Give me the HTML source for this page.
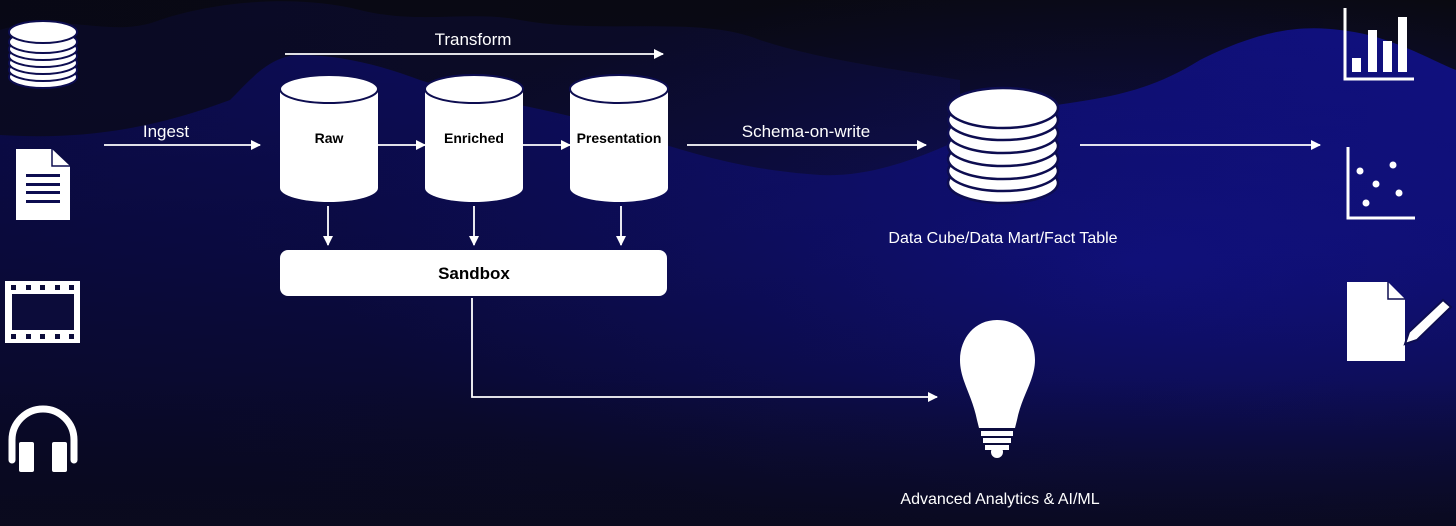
<!DOCTYPE html>
<html><head><meta charset="utf-8"><style>
html,body{margin:0;padding:0;background:#0b0b14}
svg{display:block}
text{font-family:"Liberation Sans",Arial,sans-serif;fill:#fff}
</style></head><body>
<svg width="1456" height="526" viewBox="0 0 1456 526" xmlns="http://www.w3.org/2000/svg">
<defs>
<linearGradient id="bg" x1="0" y1="0" x2="0" y2="1">
<stop offset="0" stop-color="#0a0a10"/><stop offset="1" stop-color="#0a0a1a"/></linearGradient>
<linearGradient id="blue" x1="0" y1="0" x2="0" y2="1">
<stop offset="0" stop-color="#10107e"/><stop offset="0.45" stop-color="#0d0d5c"/><stop offset="1" stop-color="#0a0a22"/></linearGradient>
<linearGradient id="dk" x1="0" y1="0" x2="0" y2="1">
<stop offset="0" stop-color="#0d0d2e"/><stop offset="1" stop-color="#0b0b22"/></linearGradient>
<linearGradient id="shade" x1="0" y1="0" x2="1" y2="0">
<stop offset="0" stop-color="#07071a" stop-opacity="0.5"/><stop offset="0.45" stop-color="#07071a" stop-opacity="0.3"/><stop offset="1" stop-color="#07071a" stop-opacity="0"/></linearGradient>
<linearGradient id="bot" x1="0" y1="0" x2="0" y2="1">
<stop offset="0" stop-color="#0a0a1c" stop-opacity="0"/><stop offset="1" stop-color="#0a0a1c" stop-opacity="0.5"/></linearGradient>
<radialGradient id="glow" cx="0.78" cy="0.5" r="0.55">
<stop offset="0" stop-color="#1414a8" stop-opacity="0.55"/><stop offset="1" stop-color="#1414a8" stop-opacity="0"/></radialGradient>
<marker id="ah" markerWidth="10" markerHeight="10" refX="9" refY="5" orient="auto" markerUnits="userSpaceOnUse">
<path d="M0,0 L10,5 L0,10 Z" fill="#fff"/></marker>
</defs>
<rect width="1456" height="526" fill="url(#bg)"/>
<path d="M0,30 C60,10 110,40 160,20 C220,0 300,-5 360,10 C420,25 470,10 520,20 C600,35 700,15 760,40 C820,60 900,70 960,80 L960,526 L0,526Z" fill="url(#dk)"/>
<path d="M0,135 C80,140 150,130 230,100 C250,80 270,55 300,55 C340,55 380,65 420,80 C480,100 560,110 620,130 C680,150 740,170 820,175 C880,178 940,150 1000,120 C1060,95 1120,110 1200,60 C1260,30 1300,25 1340,30 C1390,35 1430,60 1456,70 L1456,526 L0,526Z" fill="url(#blue)"/>
<rect width="1456" height="526" fill="url(#glow)"/>
<rect width="1456" height="526" fill="url(#shade)"/>
<rect y="380" width="1456" height="146" fill="url(#bot)"/>

<!-- left DB stack -->
<g stroke="#0d0d50" stroke-width="2" fill="#fff">
<ellipse cx="43" cy="77" rx="34" ry="11"/><ellipse cx="43" cy="70" rx="34" ry="11"/><ellipse cx="43" cy="63" rx="34" ry="11"/>
<ellipse cx="43" cy="56" rx="34" ry="11"/><ellipse cx="43" cy="49" rx="34" ry="11"/><ellipse cx="43" cy="42" rx="34" ry="11"/>
<ellipse cx="43" cy="32" rx="34" ry="11"/>
</g>
<!-- doc -->
<path d="M16,149 L52,149 L70,166 L70,220 L16,220Z" fill="#fff"/>
<path d="M52,149 L52,166 L70,166" fill="none" stroke="#0d0d50" stroke-width="1.5"/>
<g fill="#0d0d50"><rect x="26" y="174" width="34" height="3"/><rect x="26" y="183" width="34" height="3"/><rect x="26" y="191" width="34" height="3"/><rect x="26" y="200" width="34" height="3"/></g>
<!-- film -->
<rect x="5" y="281" width="75" height="62" fill="#fff"/>
<rect x="12" y="294" width="62" height="36" fill="#0c0c3a"/>
<g fill="#0c0c3a"><rect x="11" y="285" width="5" height="5"/><rect x="26" y="285" width="5" height="5"/><rect x="40" y="285" width="5" height="5"/><rect x="55" y="285" width="5" height="5"/><rect x="69" y="285" width="5" height="5"/>
<rect x="11" y="334" width="5" height="5"/><rect x="26" y="334" width="5" height="5"/><rect x="40" y="334" width="5" height="5"/><rect x="55" y="334" width="5" height="5"/><rect x="69" y="334" width="5" height="5"/></g>
<!-- headphones -->
<path d="M12,460 L12,440 A31,31 0 0 1 74,440 L74,460" fill="none" stroke="#fff" stroke-width="7" stroke-linecap="round"/>
<rect x="19" y="442" width="15" height="30" rx="2" fill="#fff"/><rect x="52" y="442" width="15" height="30" rx="2" fill="#fff"/>

<!-- arrows -->
<g stroke="#fff" stroke-width="1.8" fill="none" marker-end="url(#ah)">
<line x1="104" y1="145" x2="260" y2="145"/>
<line x1="285" y1="54" x2="663" y2="54"/>
<line x1="378" y1="145" x2="425" y2="145"/>
<line x1="523" y1="145" x2="570" y2="145"/>
<line x1="687" y1="145" x2="926" y2="145"/>
<line x1="1080" y1="145" x2="1320" y2="145"/>
<line x1="328" y1="206" x2="328" y2="245"/>
<line x1="474" y1="206" x2="474" y2="245"/>
<line x1="621" y1="206" x2="621" y2="245"/>
<polyline points="472,298 472,397 937,397"/>
</g>
<text x="166" y="137" font-size="17" text-anchor="middle">Ingest</text>
<text x="473" y="45" font-size="17" text-anchor="middle">Transform</text>
<text x="806" y="137" font-size="17" text-anchor="middle">Schema-on-write</text>

<!-- cylinders -->
<g>
<path d="M280,89 L280,188 A49,14 0 0 0 378,188 L378,89Z" fill="#fff"/>
<ellipse cx="329" cy="89" rx="49" ry="14" fill="#fff" stroke="#0d0d50" stroke-width="2"/>
<path d="M425,89 L425,188 A49,14 0 0 0 523,188 L523,89Z" fill="#fff"/>
<ellipse cx="474" cy="89" rx="49" ry="14" fill="#fff" stroke="#0d0d50" stroke-width="2"/>
<path d="M570,89 L570,188 A49,14 0 0 0 668,188 L668,89Z" fill="#fff"/>
<ellipse cx="619" cy="89" rx="49" ry="14" fill="#fff" stroke="#0d0d50" stroke-width="2"/>
</g>
<g font-size="14" font-weight="bold" text-anchor="middle">
<text x="329" y="143" style="fill:#000">Raw</text>
<text x="474" y="143" style="fill:#000">Enriched</text>
<text x="619" y="143" style="fill:#000">Presentation</text>
</g>
<rect x="280" y="250" width="387" height="46" rx="8" fill="#fff"/>
<text x="474" y="279" font-size="17" font-weight="bold" text-anchor="middle" style="fill:#000">Sandbox</text>

<!-- big DB -->
<g stroke="#0d0d50" stroke-width="2.5" fill="#fff">
<ellipse cx="1003" cy="183" rx="55" ry="20"/><ellipse cx="1003" cy="171" rx="55" ry="20"/><ellipse cx="1003" cy="159" rx="55" ry="20"/>
<ellipse cx="1003" cy="146" rx="55" ry="20"/><ellipse cx="1003" cy="133" rx="55" ry="20"/><ellipse cx="1003" cy="120" rx="55" ry="20"/>
<ellipse cx="1003" cy="108" rx="55" ry="20"/>
</g>
<text x="1003" y="243" font-size="16" text-anchor="middle">Data Cube/Data Mart/Fact Table</text>

<!-- bulb -->
<path d="M997,320 C1020,320 1035,338 1035,360 C1035,380 1022,395 1017,420 L1015,428 L979,428 L977,420 C972,395 960,380 960,360 C960,338 975,320 997,320Z" fill="#fff"/>
<rect x="981" y="431" width="32" height="5" fill="#fff"/><rect x="983" y="438" width="28" height="5" fill="#fff"/><rect x="985" y="445" width="24" height="5" fill="#fff"/>
<circle cx="997" cy="452" r="6" fill="#fff"/>
<text x="1000" y="504" font-size="16" text-anchor="middle">Advanced Analytics &amp; AI/ML</text>

<!-- bar chart -->
<path d="M1345,8 L1345,79 L1414,79" fill="none" stroke="#fff" stroke-width="3"/>
<g fill="#fff"><rect x="1352" y="58" width="9" height="14"/><rect x="1368" y="30" width="9" height="42"/><rect x="1383" y="41" width="9" height="31"/><rect x="1398" y="17" width="9" height="55"/></g>
<!-- scatter -->
<path d="M1348,147 L1348,218 L1415,218" fill="none" stroke="#fff" stroke-width="3"/>
<g fill="#fff"><circle cx="1360" cy="171" r="3.5"/><circle cx="1393" cy="165" r="3.5"/><circle cx="1376" cy="184" r="3.5"/><circle cx="1399" cy="193" r="3.5"/><circle cx="1366" cy="203" r="3.5"/></g>
<!-- doc pencil -->
<path d="M1347,282 L1388,282 L1405,299 L1405,361 L1347,361Z" fill="#fff"/>
<path d="M1388,282 L1388,299 L1405,299" fill="none" stroke="#0d0d50" stroke-width="1.5"/>
<path d="M1443,300 L1451,307 L1417,340 L1405,344 L1409,332Z" fill="#fff" stroke="#0d0d50" stroke-width="2"/>
</svg>
</body></html>
